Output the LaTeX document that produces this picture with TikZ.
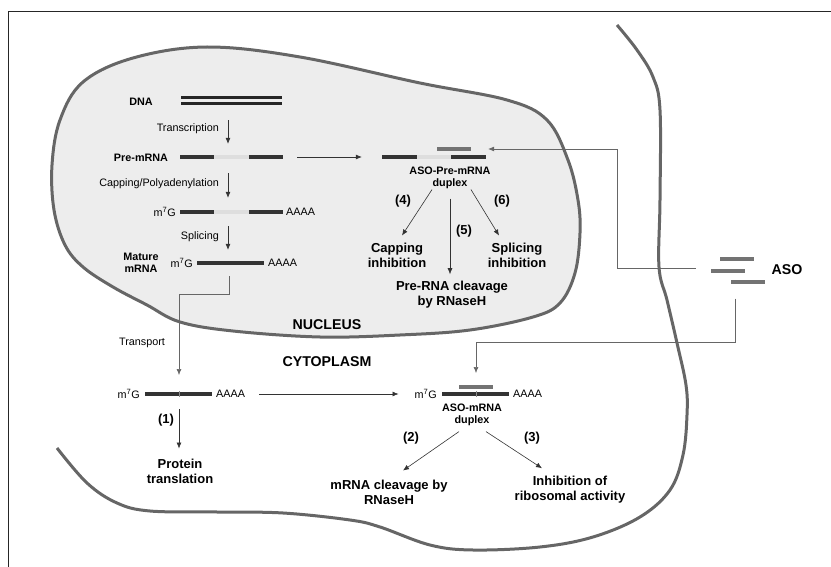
\documentclass[tikz,border=0pt]{standalone}
\usepackage{fontspec}
\setmainfont{Liberation Sans}
\usetikzlibrary{arrows.meta}

\begin{document}
\begin{tikzpicture}[x=1pt, y=-1pt]
		\tikzstyle{every node}=[inner sep=0pt, align=center]
		\tikzstyle{small}=[font=\fontsize{10.8}{12}\selectfont]
		\tikzstyle{tag}=[font=\fontsize{10.8}{12}\selectfont\bfseries]
		\tikzstyle{big}=[font=\fontsize{13}{15}\selectfont\bfseries]
		\tikzstyle{title}=[font=\fontsize{14.2}{16}\selectfont\bfseries]
		\tikzstyle{arr}=[-{Latex[length=6pt,width=5pt]}, line width=0.6pt, black!80]
		\tikzstyle{wire}=[line width=0.6pt, black!60]
		\tikzstyle{dark}=[line width=4pt, black!80]
		\tikzstyle{pale}=[line width=4pt, black!13]
		\tikzstyle{aso}=[line width=4pt, black!55]
		\tikzstyle{wall}=[line width=3pt, black!60]
		\useasboundingbox (0,0) rectangle (831,567);
		\draw[line width=0.8pt, black!85] (8,567) -- (8,11) -- (831,11);
		\draw[wall, fill=black!7] plot[smooth cycle, tension=0.6] coordinates {(207,47) (300,57) (420,83) (507,100) (547,120) (568,160) (578,200) (580,233) (575,273) (560,303) (533,317) (470,330) (400,335) (320,337) (233,331) (180,322) (147,305) (113,287) (83,267) (65,245) (54,210) (52,165) (60,120) (83,82) (133,58)};
		\draw[wall] plot[smooth, tension=0.6] coordinates {(617,25) (637,50) (653,77) (660,110) (660,200) (659,267) (667,300) (677,343) (686,385) (687,415) (683,455) (670,490) (640,517) (593,537) (540,547) (473,550) (430,545) (380,527) (350,520) (283,513) (217,512) (150,511) (117,503) (87,483) (57,448)};
		\draw[line width=3pt, black!85] (181,98) -- (282,98) (181,104) -- (282,104);
		\draw[dark] (180,157) -- (214,157) (249,157) -- (283,157);
		\draw[pale] (214,157) -- (249,157);
		\draw[dark] (180,212) -- (214,212) (249,212) -- (283,212);
		\draw[pale] (214,212) -- (249,212);
		\draw[dark] (197,263) -- (264,263);
		\draw[dark] (145,394) -- (212,394);
		\draw[line width=0.5pt, black!45] (179,391) -- (179,397);
		\draw[dark] (382,157) -- (417,157) (451,157) -- (486,157);
		\draw[pale] (417,157) -- (451,157);
		\draw[aso] (437,149) -- (471,149);
		\draw[dark] (442,394) -- (509,394);
		\draw[line width=0.5pt, black!45] (476,391) -- (476,397);
		\draw[aso] (459,387) -- (493,387);
		\draw[aso] (720,259) -- (754,259) (711,271) -- (745,271) (731,282) -- (765,282);
		\node (DNAs) [minimum width=101pt, minimum height=9pt] at (231.5,101) {};
		\node (PreS) [minimum width=103pt, minimum height=4pt] at (231.5,157) {};
		\node (CapS) [minimum width=103pt, minimum height=4pt] at (231.5,212) {};
		\node (MatS) [minimum width=67pt, minimum height=4pt] at (230.5,263) {};
		\node (DupS) [minimum width=104pt, minimum height=4pt] at (434,157) {};
		\node (ASOs) [minimum width=54pt, minimum height=27pt] at (738,270.5) {};
		\coordinate (TickA) at (179,394);
		\coordinate (TickB) at (476,394);
		\node (DNA) [tag] at (141,102) {DNA};
		\node (Pre) [tag] at (141,158) {Pre-mRNA};
		\node (Mat) [tag] at (141,263) {Mature\\mRNA};
		\node (Tra) [small, anchor=east] at (219,129) {Transcription};
		\node (Cap) [small, anchor=east] at (219,184) {Capping/Polyadenylation};
		\node (Spl) [small, anchor=east] at (219,237) {Splicing};
		\node (CapG) [small, anchor=east] at (176,212) {m\textsuperscript{7}G};
		\node (CapA) [small, anchor=west] at (286,212) {AAAA};
		\node (MatG) [small, anchor=east] at (193,263) {m\textsuperscript{7}G};
		\node (MatA) [small, anchor=west] at (268,263) {AAAA};
		\node (Tsp) [small] at (142,343) {Transport};
		\node (CytG) [small, anchor=east] at (140,394) {m\textsuperscript{7}G};
		\node (CytA) [small, anchor=west] at (216,394) {AAAA};
		\node (DupG) [small, anchor=east] at (437,394) {m\textsuperscript{7}G};
		\node (DupA) [small, anchor=west] at (513,394) {AAAA};
		\node (DupL) [tag] at (450,177.5) {ASO-Pre-mRNA\\duplex};
		\node (DupM) [tag] at (472,414.5) {ASO-mRNA\\duplex};
		\node (Nuc) [title] at (327,325) {NUCLEUS};
		\node (Cyto) [title] at (327,362) {CYTOPLASM};
		\node (ASO) [title] at (787,270) {ASO};
		\node (CapI) [big] at (397,255) {Capping\\inhibition};
		\node (SplI) [big] at (517,255) {Splicing\\inhibition};
		\node (CleI) [big] at (452,295) {Pre-RNA cleavage\\by RNaseH};
		\node (Prot) [big] at (180,471) {Protein\\translation};
		\node (Cleav) [big] at (389,492) {mRNA cleavage by\\RNaseH};
		\node (Ribo) [big] at (570,490) {Inhibition of\\ribosomal activity};
		\node (N4) [big] at (403,201) {(4)};
		\node (N5) [big] at (464,231) {(5)};
		\node (N6) [big] at (502,201) {(6)};
		\node (N1) [big] at (166,420) {(1)};
		\node (N2) [big] at (411,438) {(2)};
		\node (N3) [big] at (532,438) {(3)};
		\draw[arr, shorten <=14.5pt, shorten >=11pt] ([xshift=-3.5pt]DNAs.south) -- ([xshift=-3.5pt]PreS.north);
		\draw[arr, shorten <=14pt, shorten >=12pt] ([xshift=-3.5pt]PreS.south) -- ([xshift=-3.5pt]CapS.north);
		\draw[arr, shorten <=12pt, shorten >=11pt] ([xshift=-3.5pt]CapS.south) -- ([xshift=-2.5pt]MatS.north);
		\draw[arr, shorten <=14pt, shorten >=20pt] (PreS.east) -- (DupS.west);
		\draw[wire, -{Latex[length=6pt,width=5pt]}, shorten <=11pt] ([xshift=-1.5pt]MatS.south) -- ++(0,29) -| ([yshift=19pt]TickA);
		\draw[wire, -{Latex[length=6pt,width=5pt]}, shorten <=15pt] ([yshift=2.5pt]ASOs.west) -- ++(-94,0) |- ([xshift=2pt,yshift=8pt]DupS.east);
		\draw[wire, -{Latex[length=6pt,width=5pt]}, shorten <=14.5pt] ([xshift=-3pt]ASOs.south) -- ++(0,58.5) -| ([yshift=21pt]TickB);
		\draw[arr, shorten <=14pt, shorten >=16pt] (CytA.east) -- (DupG.west);
		\draw[arr] ([xshift=-18pt,yshift=-1pt]DupL.south) -- ([xshift=5pt,yshift=7pt]CapI.north);
		\draw[arr, shorten <=10pt, shorten >=7pt] (DupL.south) -- (DupL.south |- CleI.north);
		\draw[arr] ([xshift=21pt,yshift=-1pt]DupL.south) -- ([xshift=-18pt,yshift=7pt]SplI.north);
		\draw[arr, shorten <=15pt, shorten >=10pt] (TickA) -- (TickA |- Prot.north);
		\draw[arr] ([xshift=-13pt,yshift=-6pt]DupM.south) -- ([xshift=14pt,yshift=9pt]Cleav.north);
		\draw[arr] ([xshift=14pt,yshift=-6pt]DupM.south) -- ([xshift=-28pt,yshift=8pt]Ribo.north);
\end{tikzpicture}
\end{document}
